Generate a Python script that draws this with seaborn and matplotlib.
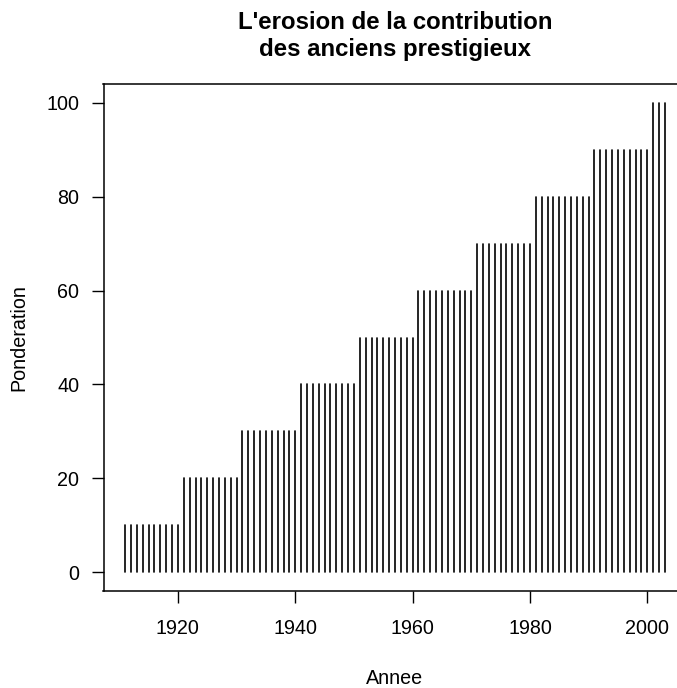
import matplotlib
matplotlib.use("Agg")
import matplotlib.pyplot as plt
import seaborn as sns
import pandas as pd

# Years and the weight given to each year
annees = list(range(1911, 2004))
ponderation = [
    10, 10, 10, 10, 10, 10, 10, 10, 10, 10,   # 1911-1920
    20, 20, 20, 20, 20, 20, 20, 20, 20, 20,   # 1921-1930
    30, 30, 30, 30, 30, 30, 30, 30, 30, 30,   # 1931-1940
    40, 40, 40, 40, 40, 40, 40, 40, 40, 40,   # 1941-1950
    50, 50, 50, 50, 50, 50, 50, 50, 50, 50,   # 1951-1960
    60, 60, 60, 60, 60, 60, 60, 60, 60, 60,   # 1961-1970
    70, 70, 70, 70, 70, 70, 70, 70, 70, 70,   # 1971-1980
    80, 80, 80, 80, 80, 80, 80, 80, 80, 80,   # 1981-1990
    90, 90, 90, 90, 90, 90, 90, 90, 90, 90,   # 1991-2000
    100, 100, 100,                            # 2001-2003
]
x_ticks = [1920, 1940, 1960, 1980, 2000]
y_ticks = [0, 20, 40, 60, 80, 100]

sns.set_style("ticks")
plt.rcParams["font.family"] = ["Liberation Sans", "DejaVu Sans"]
plt.rcParams["text.color"] = "black"
plt.rcParams["axes.labelcolor"] = "black"

# Long-form table: each year is a vertical segment from 0 up to its weight
df = pd.DataFrame({
    "Annee": [a for a in annees for _ in (0, 1)],
    "Ponderation": [v for p in ponderation for v in (0, p)],
    "id": [a for a in annees for _ in (0, 1)],
})

fig = plt.figure(figsize=(6.77, 6.88), dpi=100)
ax = fig.add_axes([103.5 / 677, 1 - 591 / 688, (686.5 - 103.5) / 677, (591 - 84) / 688])

sns.lineplot(data=df, x="Annee", y="Ponderation", units="id", estimator=None,
             color="black", linewidth=1.2, ax=ax, legend=False)

span_x = annees[-1] - annees[0]
ax.set_xlim(annees[0] - 0.04 * span_x, annees[-1] + 0.04 * span_x)
ax.set_ylim(-4, 104)
ax.set_xticks(x_ticks)
ax.set_yticks(y_ticks)
ax.tick_params(axis="both", direction="out", length=8.5, width=1.0, color="black",
               labelsize=14.2, labelcolor="black")
ax.tick_params(axis="x", pad=12)
ax.tick_params(axis="y", pad=9)
for s in ax.spines.values():
    s.set_visible(True)
    s.set_color("black")
    s.set_linewidth(1.1)

ax.set_xlabel("")
ax.set_ylabel("")
fig.text((103.5 + 686.5) / 2 / 677, 1 - 679 / 688, "Annee",
         ha="center", va="center", fontsize=14.2)
fig.text(18.5 / 677, 1 - 338 / 688, "Ponderation", rotation=90,
         ha="center", va="center", fontsize=14.2)
fig.text((103.5 + 686.5) / 2 / 677, 1 - 11 / 688,
         "L'erosion de la contribution\ndes anciens prestigieux",
         ha="center", va="top", fontsize=17.3, fontweight="bold", linespacing=1.22)

fig.savefig("out.png", dpi=100)
